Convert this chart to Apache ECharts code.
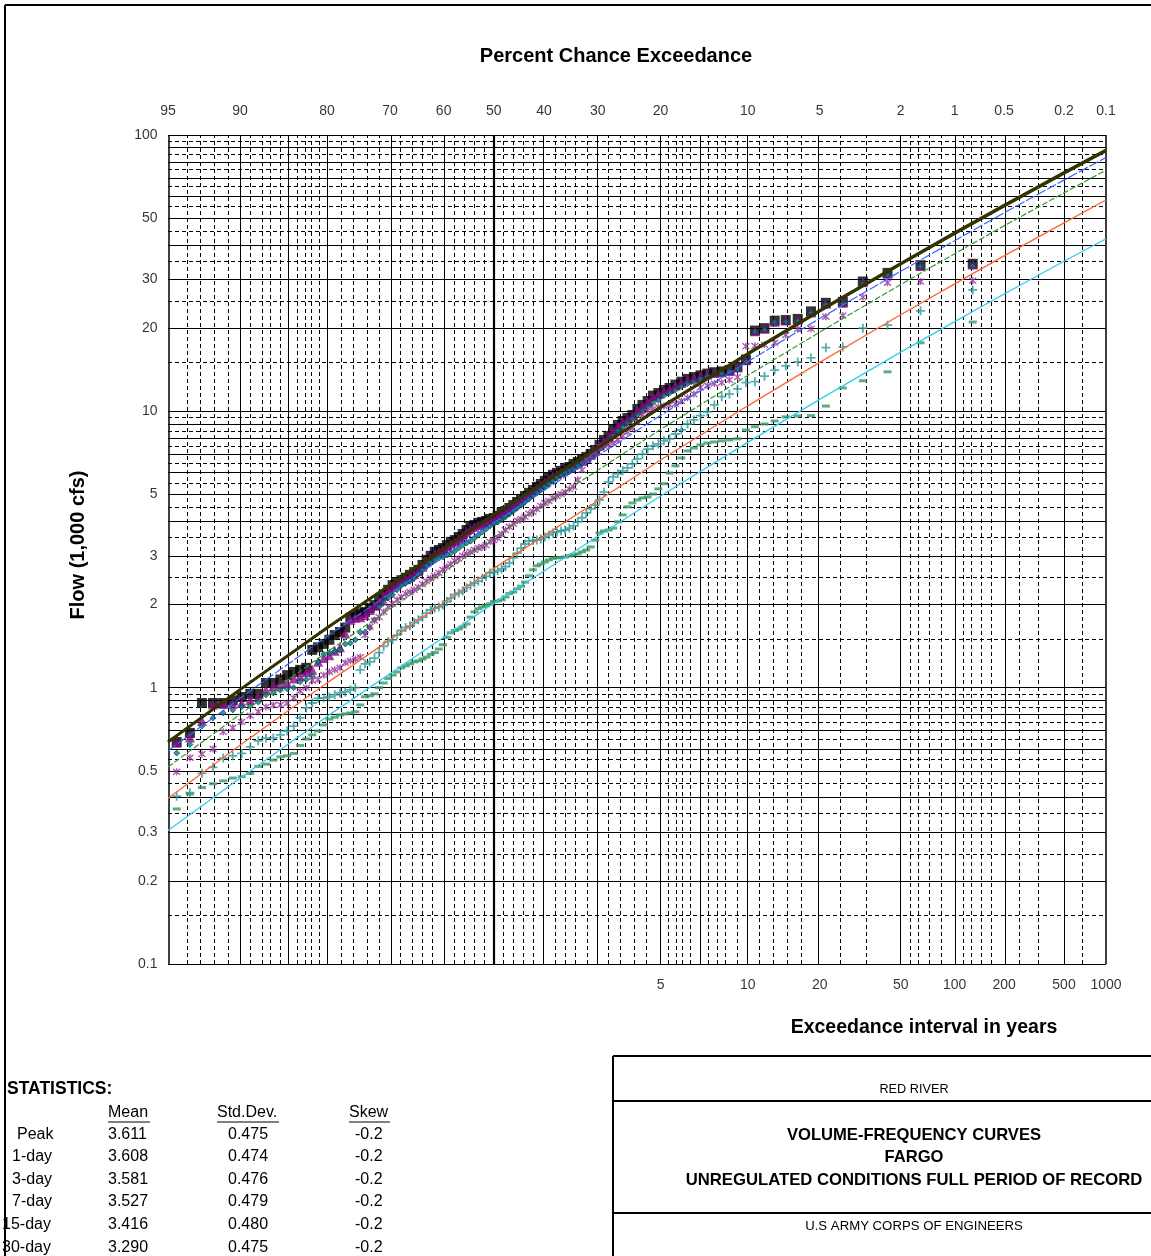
<!DOCTYPE html>
<html><head><meta charset="utf-8">
<script src="https://cdn.jsdelivr.net/npm/echarts@6/dist/echarts.min.js"></script>
<style>html,body{margin:0;padding:0;background:#fff}#chart{width:1151px;height:1256px}</style>
</head><body><div id="chart"></div>
<script>
// ---------------- DATA ----------------
const topExceedLabels = [95,90,80,70,60,50,40,30,20,10,5,2,1,0.5,0.2,0.1];
const yearLabels = [5,10,20,50,100,200,500,1000];
const flowLabels = [100,50,30,20,10,5,3,2,1,0.5,0.3,0.2,0.1];

const vSolid = [90,85,80,70,60,40,30,20,15,10,5,2,1,0.5,0.2];
const vBorder = [95,0.1];
const vHeavy = [50];
const vDashed = [94,93,92,91,89,88,87,86,84,83,82,81,78,76,74,72,68,66,64,62,58,56,54,52,48,46,44,42,38,36,34,32,28,26,24,22,19,18,17,16,14,13,12,11,9,8,7,6,4,3,1.8,1.6,1.4,1.2,0.9,0.8,0.7,0.6,0.4,0.3,0.15];
const hSolid = [0.1,0.2,0.3,0.4,0.5,0.6,0.7,0.8,0.9,1,2,3,4,5,6,7,8,9,10,20,30,40,50,60,70,80,90,100];
const hDashed = [0.15,0.25,0.35,0.45,0.55,0.65,0.75,0.85,0.95,1.5,2.5,3.5,4.5,5.5,6.5,7.5,8.5,9.5,15,25,35,45,55,65,75,85,95];

const recordYears = 127;

const peakFlows = [34.2,33.8,31.7,29.5,24.9,24.7,23.0,21.6,21.4,21.3,
20.0,19.6,15.4,14.5,14.1,13.95,13.85,13.7,13.5,13.3,
13.1,12.8,12.5,12.15,11.95,11.65,11.4,10.9,10.55,10.2,
9.7,9.46,9.23,8.93,8.56,8.15,7.88,7.56,7.25,7.01,
6.84,6.67,6.56,6.45,6.29,6.19,6.09,5.99,5.89,5.74,
5.60,5.46,5.33,5.19,5.07,4.94,4.82,4.70,4.58,4.47,
4.36,4.29,4.18,4.11,4.08,4.01,3.98,3.95,3.88,3.82,
3.72,3.60,3.51,3.42,3.37,3.28,3.20,3.15,3.10,3.00,
2.90,2.78,2.67,2.62,2.56,2.50,2.45,2.41,2.35,2.26,
2.17,2.08,1.99,1.94,1.88,1.86,1.83,1.79,1.65,1.59,
1.55,1.49,1.44,1.40,1.37,1.18,1.16,1.14,1.11,1.07,
1.04,1.04,0.95,0.95,0.925,0.90,0.88,0.88,0.88,0.686,
0.636];

const day1Flows = [34.0,33.6,31.5,29.3,24.7,24.5,22.8,21.5,21.3,21.1,
19.9,19.5,15.3,14.4,14.0,13.85,13.75,13.6,13.4,13.2,
13.0,12.7,12.4,12.05,11.85,11.55,11.3,10.8,10.45,10.1,
9.62,9.38,9.15,8.85,8.48,8.08,7.81,7.5,7.19,6.95,
6.78,6.61,6.5,6.39,6.23,6.13,6.03,5.93,5.83,5.69,
5.55,5.41,5.28,5.14,5.02,4.89,4.77,4.65,4.53,4.42,
4.32,4.25,4.14,4.05,4.02,3.96,3.92,3.88,3.82,3.75,
3.66,3.55,3.46,3.38,3.32,3.24,3.16,3.11,3.05,2.95,
2.86,2.74,2.64,2.58,2.52,2.47,2.42,2.37,2.31,2.23,
2.14,2.05,1.98,1.91,1.83,1.80,1.79,1.76,1.57,1.40,
1.36,1.31,1.28,1.24,1.16,1.14,1.10,1.08,1.04,1.03,
1.01,0.981,0.925,0.903,0.88,0.875,0.873,0.870,0.759,0.66,
0.632];

const day3Flows = [33.6,33.4,31.2,28.9,24.5,24.3,22.7,21.2,21.1,21.0,
19.7,19.4,15.1,14.2,13.9,13.7,13.6,13.35,13.1,12.8,
12.6,12.3,11.95,11.65,11.4,11.0,10.75,10.38,10.04,9.70,
9.39,9.08,8.78,8.49,8.15,7.82,7.56,7.31,7.07,6.84,
6.67,6.5,6.35,6.19,6.09,5.99,5.89,5.75,5.60,5.47,
5.33,5.19,5.07,4.94,4.82,4.70,4.58,4.47,4.36,4.26,
4.15,4.05,3.98,3.92,3.85,3.75,3.66,3.57,3.48,3.39,
3.34,3.28,3.20,3.12,3.07,3.02,2.97,2.95,2.90,2.83,
2.76,2.67,2.58,2.49,2.43,2.39,2.35,2.26,2.17,2.11,
2.03,1.96,1.76,1.65,1.59,1.585,1.49,1.45,1.44,1.37,
1.35,1.34,1.32,1.24,1.10,1.07,1.05,1.0,0.99,0.98,
0.957,0.942,0.888,0.860,0.853,0.831,0.81,0.777,0.726,0.623,
0.58];

const day7Flows = [29.7,29.5,29.2,25.9,22.2,22.0,19.9,19.85,18.9,17.7,
17.4,17.25,17.2,13.3,13.0,12.7,12.6,12.4,12.2,11.55,
11.2,10.9,10.65,10.55,10.45,10.38,10.2,10.04,9.7,9.16,
8.7,8.42,8.15,7.88,7.68,7.56,7.5,7.43,7.13,6.9,
6.67,6.14,5.65,5.33,5.23,5.10,5.02,4.94,4.86,4.74,
4.66,4.55,4.43,4.33,4.26,4.15,4.08,4.02,3.92,3.82,
3.72,3.60,3.48,3.42,3.37,3.28,3.23,3.20,3.15,3.10,
3.05,3.00,2.93,2.88,2.80,2.74,2.67,2.60,2.54,2.49,
2.43,2.37,2.31,2.26,2.22,2.19,2.13,2.08,2.01,1.96,
1.88,1.80,1.75,1.66,1.55,1.29,1.27,1.25,1.23,1.18,
1.16,1.14,1.11,1.07,1.06,1.0,0.973,0.918,0.880,0.866,
0.865,0.852,0.818,0.792,0.752,0.716,0.692,0.600,0.575,0.558,
0.496];

const day15Flows = [27.5,23.1,20.5,20.0,17.1,17.0,15.6,15.1,14.6,14.1,
13.4,12.8,12.7,12.05,11.55,11.3,10.55,9.95,9.65,9.31,
9.0,8.56,8.28,7.95,7.82,7.63,7.5,7.3,7.0,6.73,
6.45,6.24,6.09,5.94,5.79,5.56,5.10,4.78,4.58,4.44,
4.29,4.12,3.98,3.85,3.78,3.72,3.69,3.66,3.63,3.57,
3.51,3.45,3.42,3.41,3.39,3.31,3.20,3.07,2.95,2.83,
2.74,2.69,2.65,2.62,2.60,2.53,2.49,2.43,2.39,2.35,
2.30,2.24,2.20,2.17,2.11,2.05,1.99,1.96,1.94,1.91,
1.86,1.80,1.76,1.72,1.67,1.65,1.61,1.55,1.49,1.47,
1.41,1.34,1.28,1.24,1.22,1.16,1.0,0.981,0.965,0.957,
0.942,0.926,0.918,0.915,0.880,0.845,0.777,0.726,0.697,0.675,
0.658,0.656,0.642,0.611,0.578,0.567,0.556,0.515,0.490,0.417,
0.405];

const day30Flows = [21.05,17.7,13.9,12.9,12.15,10.45,9.65,9.62,9.55,9.23,
9.0,8.8,8.56,7.95,7.88,7.82,7.75,7.68,7.56,7.37,
7.19,6.78,6.35,5.98,5.47,5.24,5.02,4.90,4.86,4.78,
4.66,4.51,4.22,3.98,3.78,3.72,3.69,3.63,3.42,3.23,
3.15,3.10,3.05,3.02,3.00,2.97,2.96,2.95,2.94,2.90,
2.85,2.80,2.76,2.67,2.54,2.41,2.33,2.28,2.22,2.19,
2.13,2.08,2.06,2.05,2.01,1.98,1.96,1.93,1.88,1.80,
1.70,1.66,1.63,1.61,1.58,1.52,1.43,1.38,1.34,1.32,
1.29,1.27,1.25,1.24,1.22,1.20,1.18,1.14,1.11,1.08,
1.04,1.0,0.95,0.935,0.927,0.866,0.818,0.81,0.804,0.797,
0.782,0.770,0.733,0.697,0.675,0.652,0.618,0.578,0.567,0.562,
0.547,0.529,0.519,0.489,0.476,0.471,0.460,0.449,0.435,0.412,
0.364];

const curveExceed = [95,90,80,50,20,10,5,2,1,0.5,0.2,0.1];
const peakCurve  = [0.636,0.984,1.647,4.233,10.34,16.17,23.14,34.26,44.22,55.69,73.13,88.26];
const day1Curve  = [0.634,0.980,1.639,4.203,10.25,16.01,22.89,33.87,43.69,55.00,72.18,87.08];
const day3Curve  = [0.591,0.916,1.534,3.951,9.674,15.13,21.67,32.12,41.46,52.26,68.67,82.91];
const day7Curve  = [0.516,0.801,1.347,3.490,8.596,13.48,19.35,28.75,37.18,46.92,61.75,74.65];
const day15Curve = [0.398,0.619,1.041,2.703,6.668,10.47,15.04,22.37,28.93,36.53,48.11,58.19];
const day30Curve = [0.304,0.470,0.787,2.021,4.941,7.720,11.05,16.37,21.11,26.59,34.92,42.14];

const statRows = [
  ['Peak','3.611','0.475','-0.2'],
  ['1-day','3.608','0.474','-0.2'],
  ['3-day','3.581','0.476','-0.2'],
  ['7-day','3.527','0.479','-0.2'],
  ['15-day','3.416','0.480','-0.2'],
  ['30-day','3.290','0.475','-0.2']
];

// ---------------- probability-paper transform ----------------
function norminv(p){
  const a=[-3.969683028665376e+01,2.209460984245205e+02,-2.759285104469687e+02,1.383577518672690e+02,-3.066479806614716e+01,2.506628277459239e+00];
  const b=[-5.447609879822406e+01,1.615858368580409e+02,-1.556989798598866e+02,6.680131188771972e+01,-1.328068155288572e+01];
  const c=[-7.784894002430293e-03,-3.223964580411365e-01,-2.400758277161838e+00,-2.549732539343734e+00,4.374664141464968e+00,2.938163982698783e+00];
  const d=[7.784695709041462e-03,3.224671290700398e-01,2.445134137142996e+00,3.754408661907416e+00];
  const pl=0.02425, ph=1-pl; let q,r;
  if(p<pl){q=Math.sqrt(-2*Math.log(p));return (((((c[0]*q+c[1])*q+c[2])*q+c[3])*q+c[4])*q+c[5])/((((d[0]*q+d[1])*q+d[2])*q+d[3])*q+1);}
  if(p<=ph){q=p-0.5;r=q*q;return (((((a[0]*r+a[1])*r+a[2])*r+a[3])*r+a[4])*r+a[5])*q/(((((b[0]*r+b[1])*r+b[2])*r+b[3])*r+b[4])*r+1);}
  q=Math.sqrt(-2*Math.log(1-p));return -(((((c[0]*q+c[1])*q+c[2])*q+c[3])*q+c[4])*q+c[5])/((((d[0]*q+d[1])*q+d[2])*q+d[3])*q+1);
}
const zOf = pct => norminv(1 - pct/100);
const X_MIN = zOf(95), X_MAX = zOf(0.1);

function pointsOf(flows){
  return flows.map((v,i)=>[zOf(100*(i+1)/(recordYears+1)), v]);
}
function curveOf(vals){ return vals.map((v,i)=>[zOf(curveExceed[i]), v]); }

// ---------------- grid lines ----------------
const solidStyle = {color:'#000', width:1, type:'solid'};
const dashStyle = {color:'#000', width:1, type:[4,3]};
const mlData = [];
vDashed.forEach(p=>mlData.push({xAxis:zOf(p), lineStyle:dashStyle}));
hDashed.forEach(v=>mlData.push({yAxis:v, lineStyle:dashStyle}));
vSolid.forEach(p=>mlData.push({xAxis:zOf(p), lineStyle:solidStyle}));
hSolid.forEach(v=>mlData.push({yAxis:v, lineStyle:solidStyle}));
vBorder.forEach(p=>mlData.push({xAxis:zOf(p), lineStyle:{color:'#000',width:1.5,type:'solid'}}));
vHeavy.forEach(p=>mlData.push({xAxis:zOf(p), lineStyle:{color:'#000',width:2.2,type:'solid'}}));

const FONT = 'Liberation Sans, Arial, sans-serif';
const plusPath = 'path://M4,0H6V4H10V6H6V10H4V6H0V4H4Z';
const starPath = 'path://M0,0L10,10M10,0L0,10M5,-1L5,11';

const labelSeries = (data, pos, dist) => ({
  type:'scatter', data, symbolSize:1, clip:false, silent:true, z:20,
  itemStyle:{color:'rgba(0,0,0,0)'},
  label:{show:true, position:pos, distance:dist, color:'#000', fontFamily:FONT, fontSize:14,
         formatter:p=>p.data.t}
});

const chart = echarts.init(document.getElementById('chart'), null, {renderer:'canvas'});
chart.setOption({
  animation:false,
  backgroundColor:'#fff',
  grid:{left:168, top:135, width:938, height:829},
  xAxis:{type:'value', min:X_MIN, max:X_MAX, show:false},
  yAxis:{type:'log', logBase:10, min:0.1, max:100, show:false},
  series:[
    {type:'line', data:[], z:1, silent:true,
     markLine:{silent:true, symbol:['none','none'], animation:false, label:{show:false}, data:mlData}},
    labelSeries(flowLabels.map(v=>({value:[X_MIN, v], t:String(v)})), 'left', 10),
    labelSeries(topExceedLabels.map(p=>({value:[zOf(p), 100], t:String(p)})), 'top', 16),
    labelSeries(yearLabels.map(y=>({value:[zOf(100/y), 0.1], t:String(y)})), 'bottom', 14),
    {name:'Peak', type:'scatter', z:5, data:pointsOf(peakFlows), symbol:'rect', symbolSize:10,
     itemStyle:{color:'#000'}},
    {name:'1-day', type:'scatter', z:6, data:pointsOf(day1Flows), symbol:'triangle', symbolSize:10,
     itemStyle:{color:'#8a0a8a'}},
    {name:'3-day', type:'scatter', z:7, data:pointsOf(day3Flows), symbol:'diamond', symbolSize:6,
     itemStyle:{color:'#008080', borderColor:'#003c3c', borderWidth:0.8}},
    {name:'7-day', type:'scatter', z:8, data:pointsOf(day7Flows), symbol:starPath, symbolSize:7,
     itemStyle:{color:'rgba(0,0,0,0)', borderColor:'#993399', borderWidth:1.4}},
    {name:'15-day', type:'scatter', z:9, data:pointsOf(day15Flows), symbol:plusPath, symbolSize:9,
     itemStyle:{color:'#2f9a9a'}},
    {name:'30-day', type:'scatter', z:10, data:pointsOf(day30Flows), symbol:'rect', symbolSize:[8,3],
     itemStyle:{color:'#339966'}},
    {type:'line', z:11, data:curveOf(day30Curve), showSymbol:false, lineStyle:{color:'#33ccee', width:1.3}},
    {type:'line', z:11, data:curveOf(day15Curve), showSymbol:false, lineStyle:{color:'#ff6633', width:1.3}},
    {type:'line', z:11, data:curveOf(day7Curve), showSymbol:false, lineStyle:{color:'#339933', width:1.2, type:[6,2]}},
    {type:'line', z:11, data:curveOf(day3Curve), showSymbol:false, lineStyle:{color:'#3366ff', width:1.2, type:[10,2]}},
    {type:'line', z:12, data:curveOf(day1Curve), showSymbol:false, lineStyle:{color:'#333300', width:1.5}},
    {type:'line', z:12, data:curveOf(peakCurve), showSymbol:false, lineStyle:{color:'#333300', width:3}}
  ],
  graphic:(function(){
    const g = [];
    const txt = (x,y,text,opt)=>g.push(Object.assign({type:'text', x, y, z:100,
      style:Object.assign({text, fill:'#000', font:'13px '+FONT, textAlign:'left', textVerticalAlign:'middle'}, opt||{})}));
    const line = (x1,y1,x2,y2,w)=>g.push({type:'line', z:100, shape:{x1,y1,x2,y2}, style:{stroke:'#000', lineWidth:w||2}});
    // frame
    line(5,5,1151,5,2); line(5,5,5,1256,2);
    // titles
    txt(616,56,'Percent Chance Exceedance',{font:'bold 20px '+FONT, textAlign:'center'});
    txt(924,1028,'Exceedance interval in years',{font:'bold 19.5px '+FONT, textAlign:'center'});
    g.push({type:'text', x:78, y:545, rotation:Math.PI/2, z:100,
      style:{text:'Flow (1,000 cfs)', fill:'#000', font:'bold 20px '+FONT, textAlign:'center', textVerticalAlign:'middle'}});
    // statistics table
    txt(7,1089,'STATISTICS:',{font:'bold 17.5px '+FONT});
    const hdr = [['Mean',108,42],['Std.Dev.',217,62],['Skew',349,41]];
    hdr.forEach(h=>{ txt(h[1],1113,h[0],{font:'16px '+FONT}); line(h[1],1122,h[1]+h[2],1122,1); });
    const rowY = [1135,1157,1180,1202,1225,1248];
    const rowX = [17,12,12,12,2,2];
    statRows.forEach((r,i)=>{
      txt(rowX[i],rowY[i],r[0],{font:'16px '+FONT});
      txt(108,rowY[i],r[1],{font:'16px '+FONT});
      txt(228,rowY[i],r[2],{font:'16px '+FONT});
      txt(355,rowY[i],r[3],{font:'16px '+FONT});
    });
    // title block
    line(613,1056,613,1256,2); line(613,1056,1151,1056,2); line(613,1101,1151,1101,2); line(613,1213,1151,1213,2);
    txt(914,1089,'RED RIVER',{font:'12.7px '+FONT, textAlign:'center'});
    txt(914,1135,'VOLUME-FREQUENCY CURVES',{font:'bold 16.6px '+FONT, textAlign:'center'});
    txt(914,1157,'FARGO',{font:'bold 16.6px '+FONT, textAlign:'center'});
    txt(914,1180,'UNREGULATED CONDITIONS FULL PERIOD OF RECORD',{font:'bold 16.7px '+FONT, textAlign:'center'});
    txt(914,1226,'U.S ARMY CORPS OF ENGINEERS',{font:'13.2px '+FONT, textAlign:'center'});
    line(5,1100,5,1256,2);
    return g;
  })()
});
</script></body></html>
